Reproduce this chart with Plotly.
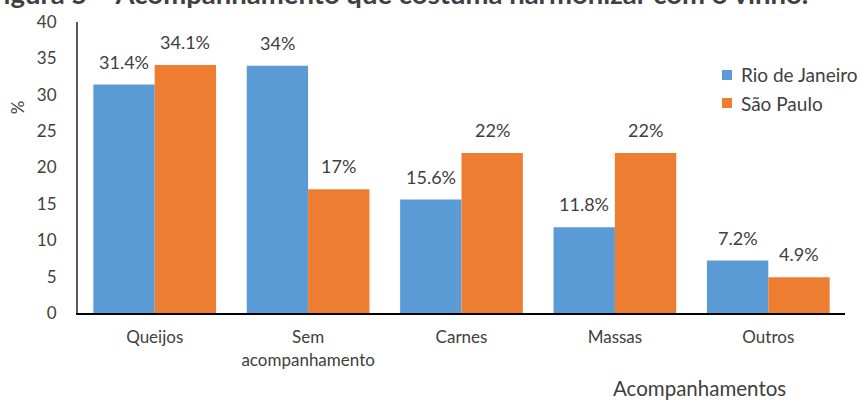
import plotly.graph_objects as go

# Accompaniment categories and share of respondents (%) per city
categorias = ["Queijos", "Sem<br>acompanhamento", "Carnes", "Massas", "Outros"]
rio_de_janeiro = [31.4, 34, 15.6, 11.8, 7.2]
sao_paulo = [34.1, 17, 22, 22, 4.9]
y_ticks = [0, 5, 10, 15, 20, 25, 30, 35, 40]

AZUL = "#5B9BD5"
LARANJA = "#ED7D31"
TEXTO = "#404040"
FONTE = "Lato"

series = [("Rio de Janeiro", rio_de_janeiro, AZUL),
          ("São Paulo", sao_paulo, LARANJA)]

fig = go.Figure()
for nome, valores, cor in series:
    fig.add_trace(go.Bar(name=nome, x=categorias, y=valores,
                         marker=dict(color=cor, line=dict(width=0)),
                         showlegend=False))

# Percentage labels above each bar
def fmt(v):
    return f"{v:g}%"

offset = 30.7
annots = []
for (nome, valores, cor), dx in zip(series, (-offset, offset)):
    for cat, v in zip(categorias, valores):
        annots.append(dict(x=cat, y=v, xref="x", yref="y", text=fmt(v),
                           showarrow=False, xshift=dx, yshift=10,
                           yanchor="bottom",
                           font=dict(family=FONTE, size=18, color=TEXTO)))

# Compact legend in the upper right, packed tight against the edge
shapes = []
legend_rows = [(0.8179, 0.8007, 0.8351), (0.7216, 0.7045, 0.7388)]
for (nome, valores, cor), (yc, y0, y1) in zip(series, legend_rows):
    shapes.append(dict(type="rect", xref="paper", yref="paper",
                       x0=0.8396, x1=0.8527, y0=y0, y1=y1,
                       fillcolor=cor, line=dict(width=0)))
    annots.append(dict(text=nome, xref="paper", yref="paper",
                       x=0.8618, y=yc, xanchor="left", yanchor="middle",
                       showarrow=False,
                       font=dict(family=FONTE, size=19, color=TEXTO)))

# Figure caption (runs past the top edge), y-axis unit and x-axis title
annots.append(dict(text="<b>Figura 5 – Acompanhamento que costuma harmonizar com o vinho.</b>",
                   xref="paper", yref="paper", x=0.9544, y=1.099,
                   xanchor="right", yanchor="middle", showarrow=False,
                   font=dict(family=FONTE, size=27.5, color=TEXTO)))
annots.append(dict(text="%", xref="paper", yref="paper", x=-0.078, y=0.708,
                   xanchor="center", yanchor="middle",
                   textangle=-90, showarrow=False,
                   font=dict(family=FONTE, size=17, color=TEXTO)))
annots.append(dict(text="Acompanhamentos", xref="paper", yref="paper",
                   x=0.81, y=-0.258, xanchor="center", yanchor="middle",
                   showarrow=False,
                   font=dict(family=FONTE, size=20.5, color=TEXTO)))

fig.update_layout(
    width=859, height=400, autosize=False,
    margin=dict(l=78, r=14, t=22, b=87, pad=0),
    paper_bgcolor="white", plot_bgcolor="white",
    barmode="group", bargap=0.2, bargroupgap=0,
    font=dict(family=FONTE, color=TEXTO),
    showlegend=False,
    annotations=annots,
    shapes=shapes,
)
fig.update_xaxes(showline=True, linecolor="#000000", linewidth=2,
                 showgrid=False, ticks="", ticklabelstandoff=8,
                 tickfont=dict(family=FONTE, size=17, color=TEXTO))
fig.update_yaxes(range=[0, 40], tickvals=y_ticks, showline=True,
                 linecolor="#595959", linewidth=2, showgrid=False,
                 zeroline=False, ticks="", ticklabelstandoff=16,
                 tickfont=dict(family=FONTE, size=17, color=TEXTO))

fig.write_html("out.html")
